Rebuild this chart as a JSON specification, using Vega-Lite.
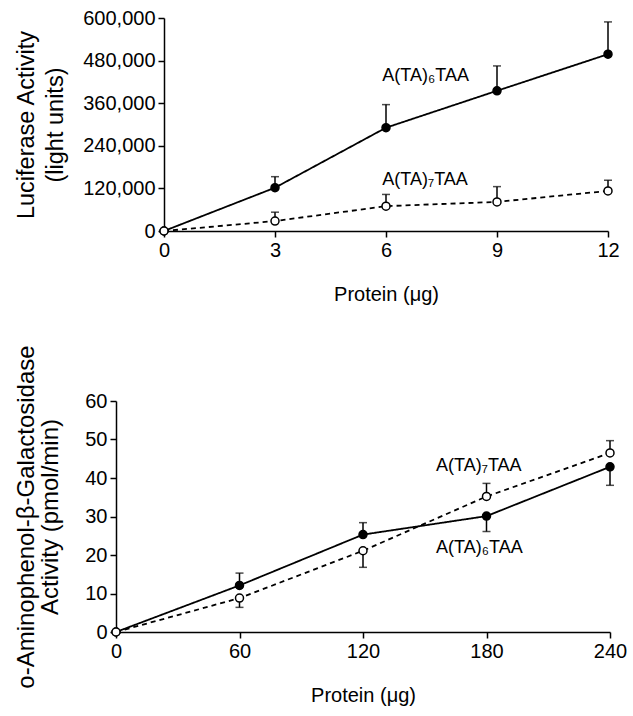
{
  "$schema": "https://vega.github.io/schema/vega-lite/v6.json",
  "padding": {"left": 13, "top": 8, "right": 5, "bottom": 5},
  "background": "white",
  "config": {
    "font": "Liberation Sans",
    "view": {"stroke": null},
    "axis": {
      "domainColor": "black", "domainWidth": 1.5,
      "tickColor": "black", "tickWidth": 1.5, "tickSize": 6,
      "labelColor": "black", "labelFontSize": 20, "labelPadding": 3,
      "labelFlush": false, "labelOverlap": false,
      "titleColor": "black", "titleFontSize": 20, "titleFontWeight": "normal",
      "grid": false
    }
  },
  "datasets": {
    "empty": [],
    "luc": [
      {"protein": 0, "value": 0, "err": null, "series": "A6"},
      {"protein": 3, "value": 122000, "err": 153000, "series": "A6"},
      {"protein": 6, "value": 291000, "err": 356000, "series": "A6"},
      {"protein": 9, "value": 395000, "err": 465000, "series": "A6"},
      {"protein": 12, "value": 498000, "err": 589000, "series": "A6"},
      {"protein": 0, "value": 0, "err": null, "series": "A7"},
      {"protein": 3, "value": 28000, "err": 53000, "series": "A7"},
      {"protein": 6, "value": 70000, "err": 103000, "series": "A7"},
      {"protein": 9, "value": 82000, "err": 125000, "series": "A7"},
      {"protein": 12, "value": 113000, "err": 143000, "series": "A7"}
    ],
    "lucLabels": [
      {"protein": 5.9, "value": 436000, "text": "A(TA)₆TAA"},
      {"protein": 5.9, "value": 144000, "text": "A(TA)₇TAA"}
    ],
    "gal": [
      {"protein": 0, "value": 0, "err": null, "series": "A6"},
      {"protein": 60, "value": 12.1, "err": 15.3, "series": "A6"},
      {"protein": 120, "value": 25.3, "err": 28.4, "series": "A6"},
      {"protein": 180, "value": 30.1, "err": 26.1, "series": "A6"},
      {"protein": 240, "value": 42.9, "err": 38.1, "series": "A6"},
      {"protein": 0, "value": 0, "err": null, "series": "A7"},
      {"protein": 60, "value": 8.8, "err": 6.4, "series": "A7"},
      {"protein": 120, "value": 21.1, "err": 16.8, "series": "A7"},
      {"protein": 180, "value": 35.2, "err": 38.6, "series": "A7"},
      {"protein": 240, "value": 46.5, "err": 49.7, "series": "A7"}
    ],
    "galLabels": [
      {"protein": 155.5, "value": 43.1, "text": "A(TA)₇TAA"},
      {"protein": 155.5, "value": 21.8, "text": "A(TA)₆TAA"}
    ]
  },
  "vconcat": [
    {
      "spacing": 0,
      "hconcat": [
        {"width": 1, "height": 1, "data": {"name": "empty"}, "mark": {"type": "point", "opacity": 0}, "encoding": {}},
        {
          "width": 444, "height": 213,
          "encoding": {
            "x": {"field": "protein", "type": "quantitative", "scale": {"domain": [0, 12]},
                  "axis": {"values": [0, 3, 6, 9, 12], "title": "Protein (μg)", "titlePadding": 24}},
            "y": {"field": "value", "type": "quantitative", "scale": {"domain": [0, 600000]},
                  "axis": {"values": [0, 120000, 240000, 360000, 480000, 600000], "format": ",d",
                           "title": ["Luciferase Activity", "(light units)"], "titleFontSize": 23.5,
                           "titleLineHeight": 29, "titlePadding": 15}}
          },
          "layer": [
            {
              "data": {"name": "luc"},
              "mark": {"type": "line", "color": "black", "strokeWidth": 1.8},
              "encoding": {
                "strokeDash": {"field": "series", "type": "nominal",
                               "scale": {"domain": ["A6", "A7"], "range": [[1, 0], [5, 4]]}, "legend": null}
              }
            },
            {
              "data": {"name": "luc"},
              "transform": [{"filter": "datum.err != null"}],
              "mark": {"type": "rule", "color": "black", "strokeWidth": 1.5},
              "encoding": {"y2": {"field": "err"}}
            },
            {
              "data": {"name": "luc"},
              "transform": [{"filter": "datum.err != null"}],
              "mark": {"type": "tick", "orient": "horizontal", "color": "black", "size": 8, "thickness": 1.5},
              "encoding": {
                "y": {"field": "err", "type": "quantitative",
                      "axis": {"values": [0, 120000, 240000, 360000, 480000, 600000], "format": ",d",
                               "title": ["Luciferase Activity", "(light units)"], "titleFontSize": 23.5,
                               "titleLineHeight": 29, "titlePadding": 15}}
              }
            },
            {
              "data": {"name": "luc"},
              "mark": {"type": "point", "filled": true, "size": 64, "stroke": "black", "strokeWidth": 1.5, "opacity": 1},
              "encoding": {
                "fill": {"field": "series", "type": "nominal",
                         "scale": {"domain": ["A6", "A7"], "range": ["black", "white"]}, "legend": null}
              }
            },
            {
              "data": {"name": "lucLabels"},
              "mark": {"type": "text", "align": "left", "baseline": "middle", "fontSize": 18, "color": "black"},
              "encoding": {"text": {"field": "text"}}
            }
          ]
        }
      ]
    },
    {
      "spacing": 0,
      "hconcat": [
        {"width": 1, "height": 1, "data": {"name": "empty"}, "mark": {"type": "point", "opacity": 0}, "encoding": {}},
        {
          "width": 494, "height": 231,
          "encoding": {
            "x": {"field": "protein", "type": "quantitative", "scale": {"domain": [0, 240]},
                  "axis": {"values": [0, 60, 120, 180, 240], "title": "Protein (μg)", "titlePadding": 24}},
            "y": {"field": "value", "type": "quantitative", "scale": {"domain": [0, 60]},
                  "axis": {"values": [0, 10, 20, 30, 40, 50, 60],
                           "title": ["o-Aminophenol-β-Galactosidase", "Activity (pmol/min)"], "titleFontSize": 24,
                           "titleLineHeight": 24, "titlePadding": 22}}
          },
          "layer": [
            {
              "data": {"name": "gal"},
              "mark": {"type": "line", "color": "black", "strokeWidth": 1.8},
              "encoding": {
                "strokeDash": {"field": "series", "type": "nominal",
                               "scale": {"domain": ["A6", "A7"], "range": [[1, 0], [5, 4]]}, "legend": null}
              }
            },
            {
              "data": {"name": "gal"},
              "transform": [{"filter": "datum.err != null"}],
              "mark": {"type": "rule", "color": "black", "strokeWidth": 1.5},
              "encoding": {"y2": {"field": "err"}}
            },
            {
              "data": {"name": "gal"},
              "transform": [{"filter": "datum.err != null"}],
              "mark": {"type": "tick", "orient": "horizontal", "color": "black", "size": 8, "thickness": 1.5},
              "encoding": {
                "y": {"field": "err", "type": "quantitative",
                      "axis": {"values": [0, 10, 20, 30, 40, 50, 60],
                               "title": ["o-Aminophenol-β-Galactosidase", "Activity (pmol/min)"], "titleFontSize": 24,
                               "titleLineHeight": 24, "titlePadding": 22}}
              }
            },
            {
              "data": {"name": "gal"},
              "mark": {"type": "point", "filled": true, "size": 64, "stroke": "black", "strokeWidth": 1.5, "opacity": 1},
              "encoding": {
                "fill": {"field": "series", "type": "nominal",
                         "scale": {"domain": ["A6", "A7"], "range": ["black", "white"]}, "legend": null}
              }
            },
            {
              "data": {"name": "galLabels"},
              "mark": {"type": "text", "align": "left", "baseline": "middle", "fontSize": 18, "color": "black"},
              "encoding": {"text": {"field": "text"}}
            }
          ]
        }
      ]
    }
  ],
  "spacing": 40,
  "align": "none"
}
